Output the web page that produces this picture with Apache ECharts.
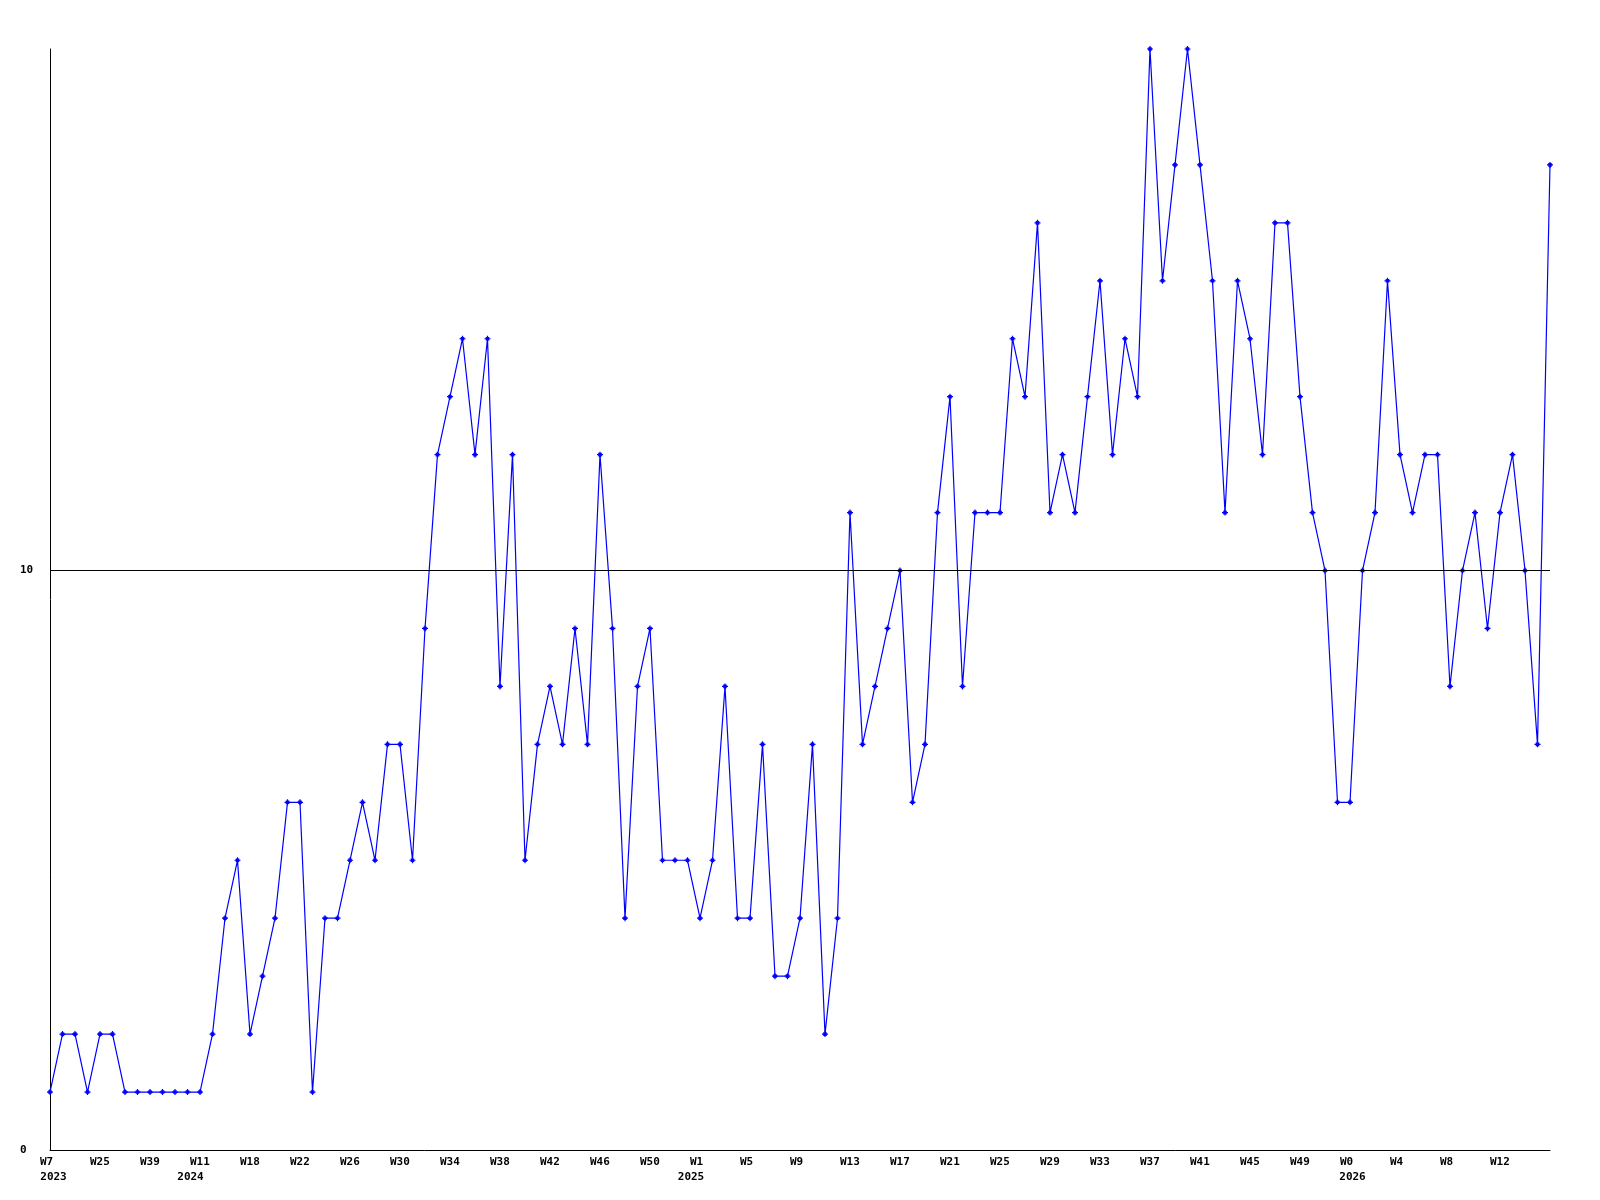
<!DOCTYPE html>
<html>
<head>
<meta charset="utf-8">
<script src="https://cdn.jsdelivr.net/npm/echarts@6/dist/echarts.min.js"></script>
<style>
html,body{margin:0;padding:0;background:#fff;}
#chart{width:1600px;height:1200px;}
</style>
</head>
<body>
<div id="chart"></div>
<script>
// weekly values, one per week
var values = [
  1, 2, 2, 1, 2, 2, 1, 1, 1, 1, 1, 1, 1, 2, 4, 5, 2, 3, 4, 6,
  6, 1, 4, 4, 5, 6, 5, 7, 7, 5, 9, 12, 13, 14, 12, 14, 8, 12, 5, 7,
  8, 7, 9, 7, 12, 9, 4, 8, 9, 5, 5, 5, 4, 5, 8, 4, 4, 7, 3, 3,
  4, 7, 2, 4, 11, 7, 8, 9, 10, 6, 7, 11, 13, 8, 11, 11, 11, 14, 13, 16,
  11, 12, 11, 13, 15, 12, 14, 13, 19, 15, 17, 19, 17, 15, 11, 15, 14, 12, 16, 16,
  13, 11, 10, 6, 6, 10, 11, 15, 12, 11, 12, 12, 8, 10, 11, 9, 11, 12, 10, 7,
  17
];
// week tick labels, shown every 4th week
var weekLabels = ['W7','W25','W39','W11','W18','W22','W26','W30','W34','W38','W42','W46','W50','W1','W5','W9','W13','W17','W21','W25','W29','W33','W37','W41','W45','W49','W0','W4','W8','W12'];
// year labels keyed by tick label position
var yearTicks = [0, 3, 13, 26];
var yearLabels = ['2023', '2024', '2025', '2026'];
var yTickLabels = [0, 10];
var refLine = 10;

var categories = values.map(function (v, i) { return String(i); });
function weekFor(i) {
  if (i % 4 !== 0) return '';
  var k = i / 4;
  return k < weekLabels.length ? weekLabels[k] : '';
}
function yearFor(i) {
  if (i % 4 !== 0) return '';
  var k = yearTicks.indexOf(i / 4);
  if (k < 0) return '';
  var style = (k === 0 || k === 3) ? 'l' + k : 'r' + k;
  return '{' + style + '|' + yearLabels[k] + '}';
}

var font = 'DejaVu Sans Mono';
var chart = echarts.init(document.getElementById('chart'), null, {renderer: 'canvas'});
chart.setOption({
  animation: false,
  backgroundColor: '#ffffff',
  grid: {left: 50, right: 50, top: 49, bottom: 50, containLabel: false},
  xAxis: [{
    type: 'category',
    data: categories,
    boundaryGap: false,
    position: 'bottom',
    axisLine: {show: true, lineStyle: {color: '#000', width: 1}},
    axisTick: {show: false},
    splitLine: {show: false},
    axisLabel: {
      interval: 0,
      formatter: function (v, i) { return weekFor(i); },
      align: 'left',
      verticalAlign: 'top',
      padding: [0, 0, 0, -10],
      margin: 7,
      color: '#000',
      fontFamily: font,
      fontWeight: 'bold',
      fontSize: 11
    }
  }, {
    type: 'category',
    data: categories,
    boundaryGap: false,
    position: 'bottom',
    axisLine: {show: false},
    axisTick: {show: false},
    splitLine: {show: false},
    axisLabel: {
      interval: 0,
      formatter: function (v, i) { return yearFor(i); },
      align: 'center',
      verticalAlign: 'top',
      margin: 22,
      color: '#000',
      fontFamily: font,
      fontWeight: 'bold',
      fontSize: 11,
      rich: {
        l0: {padding: [0, 0, 0, 7], fontFamily: font, fontWeight: 'bold', fontSize: 11, color: '#000'},
        r1: {padding: [0, 19, 0, 0], fontFamily: font, fontWeight: 'bold', fontSize: 11, color: '#000'},
        r2: {padding: [0, 18, 0, 0], fontFamily: font, fontWeight: 'bold', fontSize: 11, color: '#000'},
        l3: {padding: [0, 0, 0, 5], fontFamily: font, fontWeight: 'bold', fontSize: 11, color: '#000'}
      }
    }
  }],
  yAxis: {
    type: 'value',
    min: 0,
    max: 19,
    interval: 10,
    axisLine: {show: true, lineStyle: {color: '#000', width: 1}},
    axisTick: {show: false},
    splitLine: {show: false},
    axisLabel: {
      showMaxLabel: false,
      formatter: function (v) { return yTickLabels.indexOf(v) >= 0 ? String(v) : ''; },
      align: 'left',
      margin: 30,
      color: '#000',
      fontFamily: font,
      fontWeight: 'bold',
      fontSize: 11
    }
  },
  series: [{
    type: 'line',
    data: values,
    xAxisIndex: 0,
    showAllSymbol: true,
    symbol: 'path://M2,0H3V1H4V2H5V3H4V4H3V5H2V4H1V3H0V2H1V1H2Z',
    symbolSize: 6,
    lineStyle: {color: '#0000ff', width: 1.2},
    itemStyle: {color: '#0000ff'},
    silent: true,
    markLine: {
      silent: true,
      symbol: ['none', 'none'],
      label: {show: false},
      lineStyle: {color: '#000', width: 1, type: 'solid'},
      data: [{yAxis: refLine}]
    }
  }]
});
</script>
</body>
</html>
